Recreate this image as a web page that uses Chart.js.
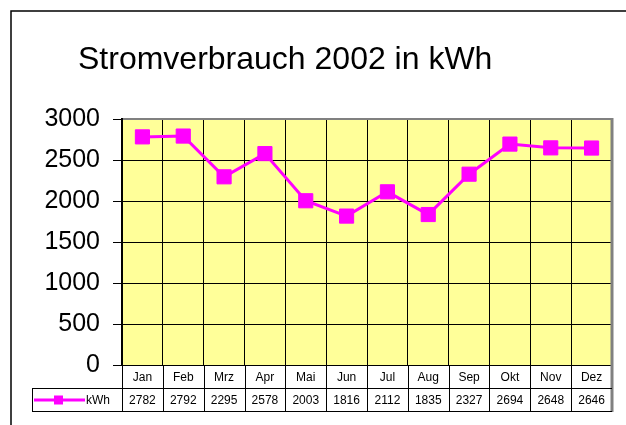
<!DOCTYPE html>
<html><head><meta charset="utf-8">
<script src="https://cdn.jsdelivr.net/npm/chart.js@4"></script>
<style>html,body{margin:0;padding:0;background:#fff}#wrap{width:626px;height:425px;position:relative}</style>
</head><body><div id="wrap"><canvas id="c" width="626" height="425"></canvas></div>
<script>
const titleText = 'Stromverbrauch 2002 in kWh';
const months = ['Jan','Feb','Mrz','Apr','Mai','Jun','Jul','Aug','Sep','Okt','Nov','Dez'];
const kwh = [2782,2792,2295,2578,2003,1816,2112,1835,2327,2694,2648,2646];
const seriesName = 'kWh';
const yMin = 0, yMax = 3000, yStep = 500;

const FONT = 'Arial, "Liberation Sans", sans-serif';
const MAGENTA = '#FF00FF';

const decor = {
  id: 'decor',
  beforeDraw(chart) {
    const ctx = chart.ctx, ca = chart.chartArea;
    ctx.save();
    ctx.fillStyle = '#fff';
    ctx.fillRect(0, 0, chart.width, chart.height);
    ctx.strokeStyle = '#000';
    ctx.lineWidth = 1.5;
    ctx.strokeRect(11, 11, 700, 600);
    ctx.fillStyle = '#FFFF99';
    ctx.fillRect(ca.left, ca.top, ca.right - ca.left, ca.bottom - ca.top);
    ctx.restore();
  },
  afterDraw(chart) {
    const ctx = chart.ctx, ca = chart.chartArea, xs = chart.scales.x;
    ctx.save();
    ctx.fillStyle = '#000';
    ctx.font = '32px ' + FONT;
    ctx.textAlign = 'left';
    ctx.textBaseline = 'alphabetic';
    ctx.fillText(titleText, 78, 69);

    ctx.strokeStyle = '#808080';
    ctx.lineWidth = 2;
    ctx.beginPath();
    ctx.moveTo(ca.left + 1, ca.top);
    ctx.lineTo(ca.right + 1, ca.top);
    ctx.stroke();
    ctx.lineWidth = 3;
    ctx.beginPath();
    ctx.moveTo(ca.right, ca.top - 1);
    ctx.lineTo(ca.right, ca.bottom + 47);
    ctx.stroke();

    const n = months.length;
    const cw = (ca.right - ca.left) / n;
    const top = ca.bottom, mid = top + 23, bot = top + 46;
    const legL = 32;
    ctx.strokeStyle = '#000';
    ctx.lineWidth = 1;
    ctx.beginPath();
    ctx.moveTo(legL, mid + 0.5); ctx.lineTo(ca.right, mid + 0.5);
    ctx.moveTo(legL, bot + 0.5); ctx.lineTo(ca.right, bot + 0.5);
    ctx.moveTo(legL + 0.5, mid); ctx.lineTo(legL + 0.5, bot + 1);
    for (let i = 0; i < n; i++) {
      const x = Math.round(xs.getPixelForTick(i) - cw / 2) + 0.5;
      ctx.moveTo(x, top); ctx.lineTo(x, bot + 1);
    }
    ctx.stroke();

    ctx.fillStyle = '#000';
    ctx.font = '12px ' + FONT;
    ctx.textAlign = 'center';
    ctx.textBaseline = 'middle';
    for (let i = 0; i < n; i++) {
      const cx = xs.getPixelForTick(i);
      ctx.fillText(months[i], cx, top + 12.5);
      ctx.fillText(String(kwh[i]), cx, mid + 12.5);
    }
    const ly = mid + 12;
    ctx.strokeStyle = MAGENTA;
    ctx.lineWidth = 3;
    ctx.beginPath();
    ctx.moveTo(34, ly); ctx.lineTo(85, ly);
    ctx.stroke();
    ctx.fillStyle = MAGENTA;
    ctx.fillRect(54, ly - 4.5, 9, 9);
    ctx.fillStyle = '#000';
    ctx.textAlign = 'left';
    ctx.fillText(seriesName, 86, mid + 12.5);
    ctx.restore();
  }
};

new Chart(document.getElementById('c'), {
  type: 'line',
  data: {
    labels: months,
    datasets: [{
      label: seriesName,
      data: kwh,
      borderColor: MAGENTA,
      backgroundColor: MAGENTA,
      borderWidth: 3,
      tension: 0,
      pointStyle: 'rect',
      pointRadius: 10,
      pointBorderWidth: 1,
      pointBackgroundColor: MAGENTA,
      pointBorderColor: MAGENTA
    }]
  },
  options: {
    responsive: false,
    animation: false,
    devicePixelRatio: 1,
    layout: { padding: { top: 119, left: 0, right: 14, bottom: 14 } },
    plugins: { legend: { display: false }, tooltip: { enabled: false }, title: { display: false } },
    scales: {
      x: {
        type: 'category',
        offset: true,
        grid: { offset: true, color: '#000', lineWidth: 1, drawTicks: false },
        border: { display: true, color: '#000', width: 1 },
        ticks: { display: false },
        afterFit(s) { s.height = 46; }
      },
      y: {
        min: yMin, max: yMax,
        grid: { color: '#000', lineWidth: 1, tickLength: 9, drawTicks: true },
        border: { display: true, color: '#000', width: 2 },
        ticks: { stepSize: yStep, color: '#000', padding: 13, font: { size: 25, family: FONT },
                 callback: (v) => String(v) },
        afterFit(s) { s.width = 122; }
      }
    }
  },
  plugins: [decor]
});
</script></body></html>
